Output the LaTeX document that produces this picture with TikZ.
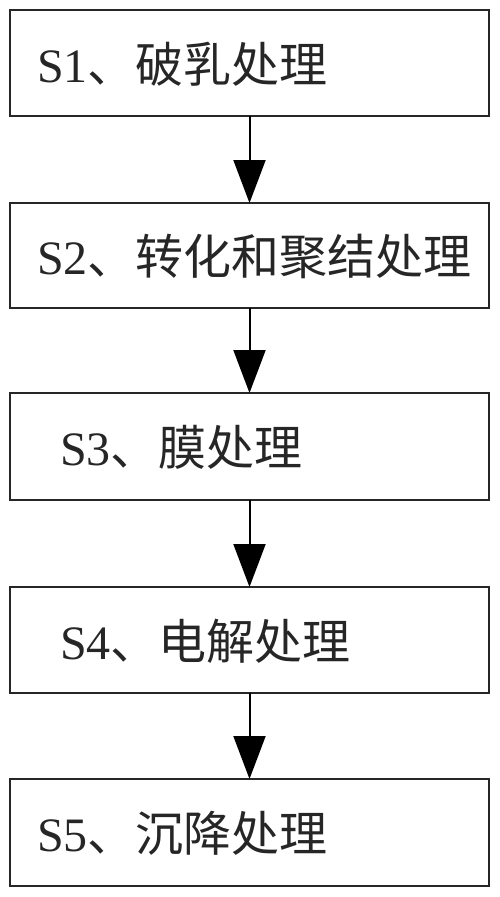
\documentclass[tikz,border=0pt]{standalone}
\usepackage{fontspec}
\setmainfont{Liberation Serif}
\newfontfamily\cjk{Noto Sans CJK SC}
\usetikzlibrary{arrows.meta}
\begin{document}
\begin{tikzpicture}[x=1pt,y=-1pt,
  stepbox/.style={draw=black!85, line width=2pt, rectangle, minimum width=479pt, inner sep=0pt, outer sep=0pt},
  lbl/.style={anchor=base west, inner sep=0pt, text=black!85, font=\fontsize{48}{52}\selectfont},
  flow/.style={draw=black, line width=2pt, -{Triangle[width=32pt,length=43pt]}}]
\useasboundingbox (0,0) rectangle (500,897);
\node[stepbox, minimum height=106pt] (b1) at (249.5,63) {};
\node[stepbox, minimum height=105pt] (b2) at (249.5,255.5) {};
\node[stepbox, minimum height=107pt] (b3) at (249.5,446.5) {};
\node[stepbox, minimum height=106pt] (b4) at (249.5,640) {};
\node[stepbox, minimum height=107pt] (b5) at (249.5,832.5) {};
\node[lbl] (t1) at (37,82) {S1{\cjk 、破乳处理}};
\node[lbl] (t2) at (37,274.5) {S2{\cjk 、转化和聚结处理}};
\node[lbl] (t3) at (60,465.5) {S3{\cjk 、膜处理}};
\node[lbl] (t4) at (60,659) {S4{\cjk 、电解处理}};
\node[lbl] (t5) at (37,851.5) {S5{\cjk 、沉降处理}};
\draw[flow] (b1.south) -- (b2.north);
\draw[flow] (b2.south) -- (b3.north);
\draw[flow] (b3.south) -- (b4.north);
\draw[flow] (b4.south) -- (b5.north);
\end{tikzpicture}
\end{document}
